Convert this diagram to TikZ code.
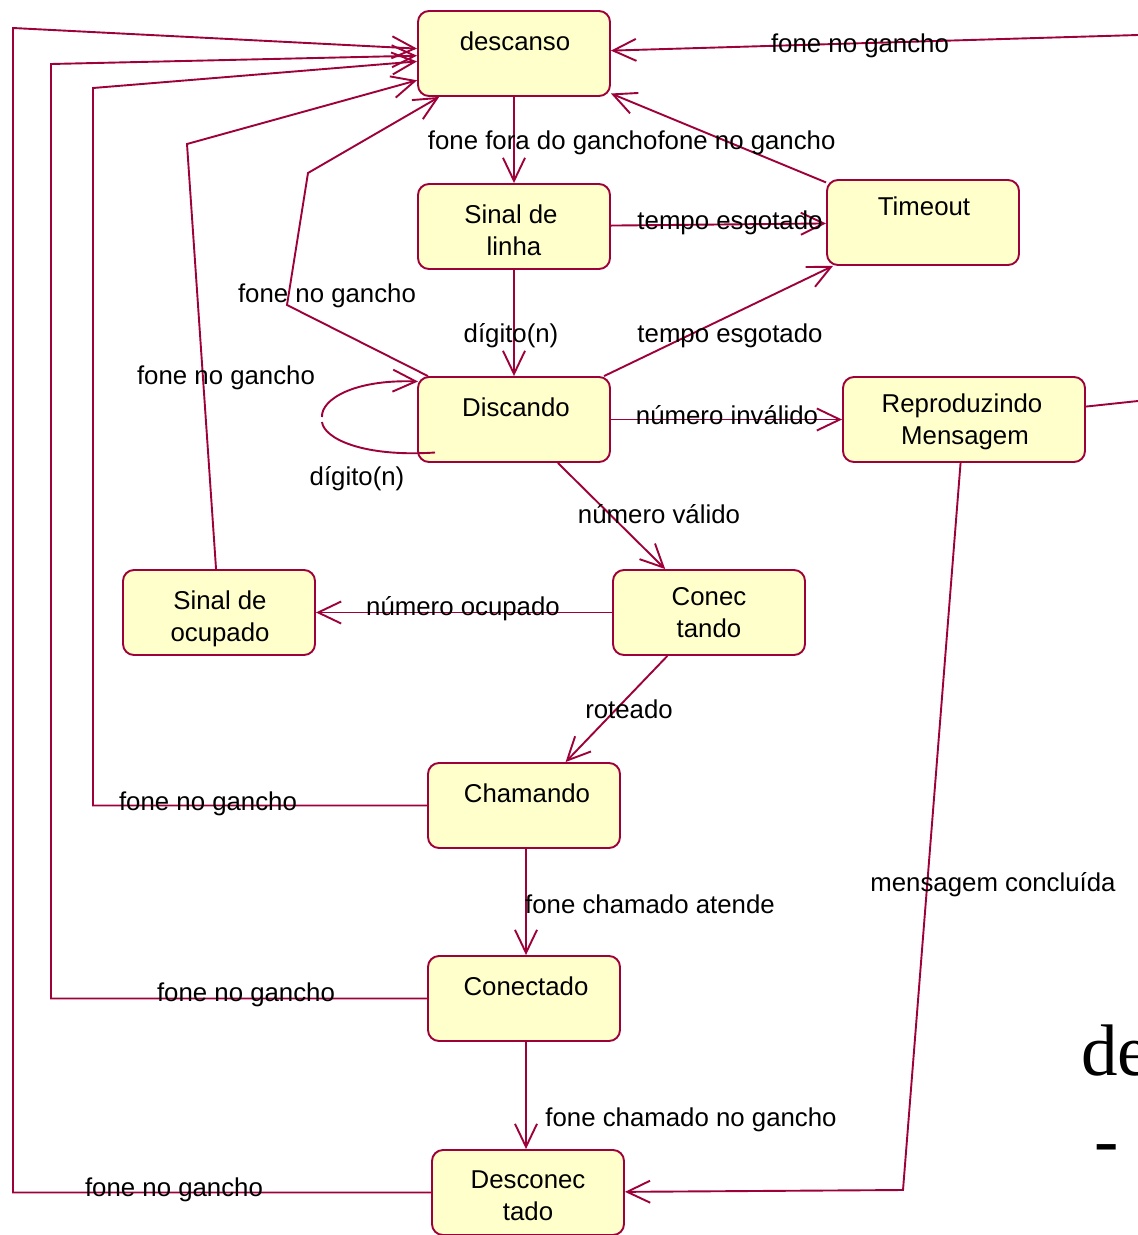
\documentclass[tikz,border=0pt]{standalone}
\usepackage{fontspec}
\setmainfont{Liberation Sans}
\newfontfamily\serifbig{Liberation Serif}
\usetikzlibrary{arrows.meta,calc}
\definecolor{umlline}{RGB}{158,0,58}
\definecolor{umlfill}{RGB}{255,255,204}
\begin{document}
\begin{tikzpicture}[x=1pt,y=-1pt,
  state/.style={draw=umlline, fill=umlfill, line width=1.9pt, rounded corners=11pt,
    minimum width=192pt, minimum height=85pt, inner sep=0pt},
  wide/.style={minimum width=242pt},
  stxt/.style={anchor=base, inner sep=0pt, font=\fontsize{25.8}{32}\selectfont},
  lbl/.style={anchor=base, inner sep=0pt, font=\fontsize{25.8}{32}\selectfont},
  edge/.style={draw=umlline, line width=1.9pt, -{Straight Barb[length=23pt,width=22pt]}},
  plain/.style={draw=umlline, line width=1.9pt}
]
\fill[white] (0,0) rectangle (1138,1235);
\useasboundingbox (0,0) rectangle (1138,1235);
\clip (0,0) rectangle (1138,1235);

% states
\node[state] (desc) at (514,53.5) {};
\node[state] (linha) at (514,226.5) {};
\node[state] (tmo) at (923,222.5) {};
\node[state] (disc) at (514,419.5) {};
\node[state,wide] (repr) at (964,419.5) {};
\node[state] (conec) at (709,612.5) {};
\node[state] (ocup) at (219,612.5) {};
\node[state] (cham) at (524,805.5) {};
\node[state] (conectado) at (524,998.5) {};
\node[state] (descon) at (528,1192.5) {};

% state names
\node[stxt] (desc-t) at (515,50) {descanso};
\node[stxt] (linha-t1) at (511,223) {Sinal de};
\node[stxt] (linha-t2) at (514,255) {linha};
\node[stxt] (tmo-t) at (924,215) {Timeout};
\node[stxt] (disc-t) at (516,416) {Discando};
\node[stxt] (repr-t1) at (962,412) {Reproduzindo};
\node[stxt] (repr-t2) at (965,444) {Mensagem};
\node[stxt] (conec-t1) at (709,605) {Conec};
\node[stxt] (conec-t2) at (709,637) {tando};
\node[stxt] (ocup-t1) at (220,609) {Sinal de};
\node[stxt] (ocup-t2) at (220,641) {ocupado};
\node[stxt] (cham-t) at (527,802) {Chamando};
\node[stxt] (conectado-t) at (526,995) {Conectado};
\node[stxt] (descon-t1) at (528,1188) {Desconec};
\node[stxt] (descon-t2) at (528,1220) {tado};

% transitions
\coordinate (offtop) at (1138,35);
\coordinate (offmid) at (1138,401);
\draw[edge] (desc) -- (linha);
\draw[edge] (tmo) -- (desc);
\draw[edge] (offtop) -- (desc);
\draw[edge] (linha) -- (tmo);
\draw[edge] (linha) -- (disc);
\draw[edge] (disc) -- (tmo);
\draw[edge] (disc) -- (repr);
\draw[plain] (repr) -- (offmid);
\draw[edge] (disc) -- (287,305) -- (308,173) -- (desc);
% self transition on Discando, drawn in two pieces with a small break on the left
\draw[plain] ($(disc)+(-79,33)$) .. controls (362.5,457.3) and (324,438.4) .. (322,422);
\draw[edge] (322,417) .. controls (321,399.4) and (354,379.3) .. ($(disc)+(-96,-38)$);
\draw[edge] (disc) -- (conec);
\draw[edge] (conec) -- (ocup);
\draw[edge] (ocup) -- (187,144) -- (desc);
\draw[edge] (conec) -- (cham);
\draw[edge] (cham) -- (93,805.5) -- (93,88) -- (desc);
\draw[edge] ($(cham.south)+(2,0)$) -- ($(conectado.north)+(2,0)$);
\draw[edge] (conectado) -- (51,998.5) -- (51,64) -- (desc);
\draw[edge] ($(conectado.south)+(2,0)$) -- ($(descon.north)+(-2,0)$);
\draw[edge] (descon) -- (13,1192.5) -- (13,28) -- (desc);
\draw[edge] (repr) -- (903,1190) -- (descon);

% transition labels
\node[lbl] (l1) at (542.7,149) {fone fora do gancho};
\node[lbl] (l2) at (746.5,149) {fone no gancho};
\node[lbl] (l3) at (860,52) {fone no gancho};
\node[lbl] (l4) at (730,229) {tempo esgotado};
\node[lbl] (l5) at (511,342) {dígito(n)};
\node[lbl] (l6) at (730,342) {tempo esgotado};
\node[lbl] (l7) at (327,302) {fone no gancho};
\node[lbl] (l8) at (226,384) {fone no gancho};
\node[lbl] (l9) at (727,424) {número inválido};
\node[lbl] (l10) at (357,485) {dígito(n)};
\node[lbl] (l11) at (659,523) {número válido};
\node[lbl] (l12) at (463,615) {número ocupado};
\node[lbl] (l13) at (629,718) {roteado};
\node[lbl] (l14) at (208,810) {fone no gancho};
\node[lbl] (l15) at (650,913) {fone chamado atende};
\node[lbl] (l16) at (993,891) {mensagem concluída};
\node[lbl] (l17) at (246,1001) {fone no gancho};
\node[lbl] (l18) at (691,1126) {fone chamado no gancho};
\node[lbl] (l19) at (174,1196) {fone no gancho};

% text running in from the right margin
\node[anchor=base west, inner sep=0pt, font=\serifbig\fontsize{73}{80}\selectfont] (frag1) at (1081,1075) {de};
\node[anchor=base west, inner sep=0pt, font=\serifbig\fontsize{73}{80}\selectfont] (frag2) at (1094,1164) {-};
\end{tikzpicture}
\end{document}
